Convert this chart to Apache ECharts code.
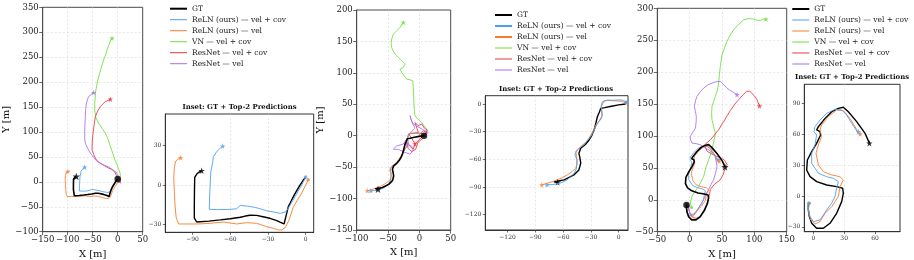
<!DOCTYPE html>
<html><head><meta charset="utf-8">
<script src="https://cdn.jsdelivr.net/npm/echarts@6/dist/echarts.min.js"></script>
<style>html,body{margin:0;padding:0;background:#fff}#c{width:914px;height:260px}</style>
</head><body><div id="c"></div>
<script>
// ---------- names / colours ----------
const seriesNames = ['GT', 'ReLN (ours) — vel + cov', 'ReLN (ours) — vel', 'VN — vel + cov', 'ResNet — vel + cov', 'ResNet — vel'];
const seriesColors = ['#000000', '#4f9ff0', '#f97c2e', '#6edd3c', '#e8333e', '#a66df5'];
const insetTitle = 'Inset: GT + Top-2 Predictions';

// ---------- scene 1 ----------
const s1_gt = [[0,5.8],[-1.9,3.8],[-4.5,0],[-7,-4],[-9.8,-8.8],[-12,-13],[-13.8,-16.4],[-15.5,-23],[-17.2,-29.5],[-20,-28.3],[-23,-27],[-28.4,-25.2],[-34,-24],[-39,-23],[-44.3,-22.9],[-48,-23.5],[-52,-24.4],[-60,-25.5],[-68,-26.4],[-77,-27.3],[-86.7,-28],[-88.6,-25],[-88.6,-15],[-88.5,-5],[-88.3,5.8],[-86.5,8.5],[-84.5,10],[-82.8,10.8]];
const s1_relnCov = [[0,6],[-2,2],[-5,-3],[-8,-8],[-11,-13],[-13.5,-17],[-15.6,-20.2],[-20,-21.5],[-25,-20.5],[-31,-19.5],[-36,-18],[-40,-17],[-46,-16],[-52,-15.4],[-55,-18],[-62,-18.5],[-70,-18.6],[-76.7,-18.4],[-76.5,-10],[-76,0],[-75.5,10],[-74,17],[-73.5,21.4],[-71,25],[-68,28],[-66,29.5]];
const s1_relnVel = [[2,4],[0,0],[-3,-6],[-7,-12],[-10,-17],[-13,-26],[-16,-32],[-19,-34],[-21.8,-34],[-25,-33],[-31,-31.5],[-39,-29],[-47,-28.5],[-55,-29.5],[-65,-28],[-76,-29],[-86,-29.5],[-92,-29.5],[-101,-29.5],[-103,-25],[-104,-15],[-104.5,-5],[-105,5],[-104.5,13],[-103.5,18],[-101,20],[-99.5,20.7]];
const s1_vn = [[2,4],[5,10],[5,17],[2,25],[-1,34],[-6,45],[-10,58],[-14.7,71],[-19,85],[-24.7,97.6],[-31,107],[-38,117.6],[-43,127],[-44.7,134],[-46,146],[-46,157.8],[-45,168],[-44.7,177.8],[-42,193],[-38,211],[-33,228],[-28,244.7],[-24,255],[-21.3,264.7],[-17,276],[-14,284],[-11.3,288]];
const s1_resCov = [[3,5],[6,0],[4,-4],[1,-2],[0,5],[-2,12],[-6,20],[-12,25],[-18,27.4],[-26,32],[-34.7,37.4],[-41,42],[-44.7,47.5],[-48,55],[-51.3,64],[-51,80],[-49.3,97.6],[-47,115],[-44.7,131],[-40,142],[-34.7,151],[-29,157],[-24.7,161],[-19,163],[-14.7,165.8]];
const s1_resVel = [[4,6],[8,3],[6,-3],[2,0],[2,8],[0,15],[-4,20],[-8,24],[-17,29],[-28,34],[-35,37],[-41.3,40.8],[-47,48],[-54.7,57.5],[-60,67],[-64.7,77.5],[-66,87],[-66,97.6],[-65.5,115],[-64.7,131],[-64,145],[-62.7,157.8],[-60,166],[-58,171],[-53,175],[-48,179]];

// ---------- scene 2 ----------
const s2_gt = [[7.4,0],[0,-1],[-8,-2.5],[-15,-4],[-19.3,-4.7],[-21,-9],[-23,-13.7],[-24.5,-20],[-26.5,-28],[-29,-34],[-32,-39],[-36,-44],[-41,-48],[-43,-53.4],[-42,-58],[-41,-64],[-42,-68],[-43,-71.5],[-48.4,-77],[-54,-80],[-59,-82.3],[-65,-83.5],[-70,-84.5],[-66,-85]];
const s2_relnCov = [[8,2],[5,4],[0,4.5],[-6,4],[-12,4.3],[-17.5,2.5],[-19,-2],[-18.5,-8],[-17.5,-12],[-19,-16],[-22,-20],[-24.7,-24.5],[-27,-30],[-30,-35],[-34,-40],[-37.5,-44],[-41,-47],[-44.7,-50],[-47.3,-55],[-45,-60.6],[-45.5,-66],[-45.5,-69.7],[-48,-75],[-52,-79],[-55.6,-82.3],[-61,-85],[-66.5,-86.6],[-72,-87.5],[-77.5,-87.7]];
const s2_relnVel = [[8,1],[3,3],[-5,3.5],[-12,3.8],[-15.6,3.6],[-17.5,0],[-19,-4],[-18,-8],[-17.5,-10],[-18.5,-13.7],[-21,-18],[-24.7,-22.7],[-28,-30],[-32,-37],[-36,-42],[-41,-46],[-44,-49],[-46.5,-51.6],[-45.5,-57],[-44.7,-64],[-45.5,-67],[-46.5,-69.7],[-50,-73],[-55.6,-77],[-61,-80],[-66.5,-82.3],[-72,-84.5],[-77.5,-86],[-83,-87.7]];
const s2_vn = [[8,0],[12,6],[11.6,10.6],[8,15],[3.7,21.2],[-2,26],[-7,31.8],[-8,40],[-8.6,50.3],[-9,63],[-9.7,76.8],[-10.7,87.4],[-15,89],[-20.3,90],[-24,95],[-28.2,100.7],[-30.9,106],[-25.6,108.6],[-22.9,113.9],[-25,117],[-30,121],[-36.2,127.2],[-41,133],[-44.2,140.4],[-45,147],[-44.2,153.7],[-41.5,161.6],[-36.2,166.9],[-30.9,172.2],[-25.6,180.2]];
const s2_resCov = [[8,0],[12.8,9],[8,12],[3.7,18.6],[-2,16],[-7,21],[-4,12],[-1.7,5.3],[-8,4],[-17.6,2.7],[-12,-4],[-7,-13.3],[-9.6,-21.3],[-14,-18],[-20,-10.6],[-18,-20],[-13,-25],[-6,-22],[-2,-10],[5,-5],[0,2],[6,8],[12,5],[4,-2],[-7,-13]];
const s2_resVel = [[8,0],[14.3,5.3],[5,10],[-9.6,18.6],[-13,25],[-14.9,31.9],[-12,22],[-7,12],[-14,5],[-20,-5.3],[-25.6,-13.3],[-36,-16],[-41.5,-21.3],[-33,-22],[-22.9,-26.6],[-15,-29.3],[-9.6,-24],[-12,-17],[-20,-13]];

// ---------- scene 3 ----------
const s3_gt = [[-4.9,-8],[-4.9,-13],[-3.9,-20],[-1.6,-26.6],[3.2,-31.5],[9.7,-31.5],[16.2,-26.6],[22.7,-16.9],[27.6,-5.5],[29.2,2.6],[28.6,7.5],[22.7,9.1],[13,10.7],[3.3,14],[-3.2,18.8],[-6.5,25.3],[-5.8,35],[-1.6,43.2],[3.2,51.3],[7.1,59.4],[6.5,62.7],[3.2,64.3],[4.9,67.5],[11.4,75.6],[17.9,82.1],[24.4,85.4],[29.2,86.4],[34.1,82.1],[42.2,72.4],[50.4,61],[54.6,51.3]];
const s3_relnCov = [[-4.2,-7.1],[-4.9,-13.6],[-3.2,-20.1],[0,-25],[6.5,-23.4],[13,-13.6],[17.9,-7.1],[21.1,-0.6],[22.7,7.5],[24.4,14],[19.5,17.2],[13,18.8],[4.9,22.1],[-1.6,31.8],[-1.6,41.6],[1.6,49.7],[3.2,59.4],[0.6,62.7],[1.6,67.5],[6.5,74],[13,80.5],[21.1,84.4],[27.6,83.8],[32.5,78.9],[37.3,70.8],[42.2,63.6],[43.8,62.7]];
const s3_relnVel = [[-4.2,-7.1],[-4.9,-15.5],[-2.6,-23.5],[1.6,-27.3],[6.5,-25],[11.4,-16.9],[17.9,-10.4],[24.4,-0.6],[26,9.1],[29.2,15.6],[25.9,18.8],[17.9,20.5],[9.7,23.7],[4.9,30.2],[2.6,41.6],[4.9,49.7],[8.1,57.8],[6.5,64.3],[8.1,69.2],[14.6,77.3],[22.7,83.8],[29.2,83.1],[35.7,75.6],[40.6,67.5],[43.8,61.7],[45.5,60.4]];
const s3_vn = [[3,-12],[1,-5],[3.6,5.2],[8,13],[13.9,20.9],[18,29],[21.6,36.6],[25,50],[29.4,62.7],[32,70],[34.5,78.3],[37,90],[39.7,104.4],[37,115],[34.5,125.3],[34,135],[34.5,146.2],[37,154],[39.7,161.9],[43,172],[44.8,182.8],[46,196],[47.4,208.9],[50,227.2],[54,238],[57.7,248],[62,257],[68,266.3],[75,274],[83.5,282],[92,284],[99,283],[105,281],[109.3,281],[113,283],[118,283]];
const s3_resCov = [[-3,-10],[0,-20],[5,-28],[10,-29],[16,-27],[22,-17],[27,-5],[30,5],[32,16],[38,24],[47,31],[52,40],[55,50],[58,55],[54,62],[48,66],[42,68],[34,72],[27,76],[23,86],[32,94],[38,101],[45,110],[49,117],[53,123],[58,132],[63,140],[70,150],[76,157],[82,164],[88,170],[93,170],[96,168],[100,163],[104,157],[108,147]];
const s3_resVel = [[-2,-10],[1,-23.5],[6,-22],[11.3,-18.3],[16,-9],[21.6,0],[25,8],[29.4,15.7],[33,24],[37,31.3],[40,42],[42.3,52.2],[41,60],[39.7,68],[35,74],[29.4,78.3],[23,82],[16.5,86.2],[10,88],[3.6,88.8],[1,95],[1,99.2],[5,106],[9,112.3],[10,122],[10.3,130.5],[9,138],[7.2,146.2],[9,155],[11.3,161.9],[16,169],[21.6,175],[28,180],[34.5,182.8],[41,185],[47.4,185.4],[53,180],[57.7,175],[62,172],[65.5,169.7],[70,167],[73.2,164.5]];

// ---------- axis ranges / ticks ----------
const main1X = [-150, 50], main1Y = [-100, 350];
const main2X = [-100, 50], main2Y = [-150, 200];
const main3X = [-50, 150], main3Y = [-50, 300];
const inset1XRange = [-111.7, 6.4], inset1YRange = [-35.8, 53.8];
const inset2XRange = [-144, 10], inset2YRange = [-136.7, 9];
const inset3XRange = [-8.8, 84.4], inset3YRange = [-34.8, 108.8];
const inset1XTicks = [-90, -60, -30, 0], inset1YTicks = [-30, 0, 30];
const inset2XTicks = [-120, -90, -60, -30, 0], inset2YTicks = [-120, -90, -60, -30, 0];
const inset3XTicks = [0, 30, 60], inset3YTicks = [-30, 0, 30, 60, 90];

// ---------- build ----------
const F = 'DejaVu Serif';
const STAR = 'path://M0,-10L2.35,-3.24L9.51,-3.09L3.8,1.24L5.88,8.09L0,4L-5.88,8.09L-3.8,1.24L-9.51,-3.09L-2.35,-3.24Z';
const fmt = v => (v < 0 ? '\u2212' : '') + Math.abs(Math.round(v * 100) / 100);

const grids = [
  {left: 42.7, top: 7.3, width: 100, height: 224.4, borderColor: '#4a4a4a'},
  {left: 165.3, top: 114, width: 148.4, height: 118.3, borderColor: '#333'},
  {left: 356.7, top: 10, width: 94, height: 220, borderColor: '#4a4a4a'},
  {left: 485.3, top: 95.7, width: 142.7, height: 134.3, borderColor: '#333'},
  {left: 657.3, top: 8.3, width: 129.4, height: 223.4, borderColor: '#4a4a4a'},
  {left: 804.3, top: 84.3, width: 95.7, height: 147.4, borderColor: '#333'}
].map(g => Object.assign({show: true, borderWidth: 1, backgroundColor: 'transparent', containLabel: false, outerBoundsMode: 'none'}, g));

const splitLine = {show: true, showMinLine: false, showMaxLine: false, lineStyle: {color: '#d9d9d9', width: 0.6, type: [2, 2]}};
function mainAxis(gi, range, name, gap) {
  return {
    type: 'value', gridIndex: gi, min: range[0], max: range[1], interval: 50,
    name: name, nameLocation: 'middle', nameGap: gap,
    nameTextStyle: {fontFamily: F, fontSize: 10, color: '#111'},
    axisLine: {show: true, onZero: false, lineStyle: {color: '#4a4a4a', width: 1}},
    axisTick: {show: true, length: 3.5, lineStyle: {color: '#444', width: 0.8}},
    axisLabel: {fontFamily: F, fontSize: 8.5, color: '#222', margin: 4, formatter: fmt},
    splitLine: splitLine
  };
}
function insetAxis(gi, range, ticks, split) {
  return {
    type: 'value', gridIndex: gi, min: range[0], max: range[1], splitNumber: split,
    axisLine: {show: true, onZero: false, lineStyle: {color: '#333', width: 1}},
    axisTick: {show: true, length: 2.5, customValues: ticks, lineStyle: {color: '#333', width: 0.7}},
    axisLabel: {show: false},
    splitLine: splitLine
  };
}

const xAxis = [
  mainAxis(0, main1X, 'X [m]', 12.5),
  insetAxis(1, inset1XRange, inset1XTicks, 4),
  mainAxis(2, main2X, 'X [m]', 12.5),
  insetAxis(3, inset2XRange, inset2XTicks, 5),
  mainAxis(4, main3X, 'X [m]', 11.5),
  insetAxis(5, inset3XRange, inset3XTicks, 3)
];
const yAxis = [
  mainAxis(0, main1Y, 'Y [m]', 25.5),
  insetAxis(1, inset1YRange, inset1YTicks, 3),
  mainAxis(2, main2Y, 'Y [m]', 29),
  insetAxis(3, inset2YRange, inset2YTicks, 5),
  mainAxis(4, main3Y, '', 25),
  insetAxis(5, inset3YRange, inset3YTicks, 5)
];

const series = [];
function traj(gi, idx, data, width, z, startSize, endSize, startZ) {
  const name = seriesNames[idx], color = seriesColors[idx];
  series.push({
    type: 'line', name: name, xAxisIndex: gi, yAxisIndex: gi, data: data,
    showSymbol: false, symbol: 'none', smooth: false, silent: true, z: z,
    lineStyle: {color: color, width: width}, itemStyle: {color: color}
  });
  const pts = [];
  if (startSize) pts.push({value: data[0], symbol: 'circle', symbolSize: startSize});
  if (endSize) pts.push({value: data[data.length - 1], symbol: STAR, symbolSize: endSize});
  series.push({
    type: 'scatter', name: name, xAxisIndex: gi, yAxisIndex: gi, data: pts,
    silent: true, z: startZ || (z + 1), itemStyle: {color: color}
  });
}
const scenes = [
  [s1_gt, s1_relnCov, s1_relnVel, s1_vn, s1_resCov, s1_resVel],
  [s2_gt, s2_relnCov, s2_relnVel, s2_vn, s2_resCov, s2_resVel],
  [s3_gt, s3_relnCov, s3_relnVel, s3_vn, s3_resCov, s3_resVel]
];
scenes.forEach((sc, p) => {
  const gm = 2 * p, gin = 2 * p + 1;
  [3, 4, 5, 1, 2].forEach(k => traj(gm, k, sc[k], 0.85, 3, 3, 5.5));
  traj(gm, 0, sc[0], 1.6, 6, 6.5, 7.5, 8);
  traj(gin, 0, sc[0], 1.4, 3, 0, 6.5);
  traj(gin, 2, sc[2], 0.9, 4, 3.5, 5.5);
  traj(gin, 1, sc[1], 0.9, 5, 3.5, 5.5);
});

function legendData(thick) {
  return seriesNames.map((n, i) => ({
    name: n,
    icon: (i === 0 || (thick && i < 3)) ? 'path://M0,0H17V2H0Z' : 'path://M0,0H17V1H0Z'
  }));
}
function legend(left, top, thick) {
  return {
    orient: 'vertical', left: left, top: top, itemWidth: 17, itemHeight: 3, itemGap: 0,
    symbolKeepAspect: true, selectedMode: false, padding: 0,
    textStyle: {fontFamily: F, fontSize: 7.5, color: '#222', lineHeight: 11},
    data: legendData(thick)
  };
}

const titleFont = 'bold 6.9px "DejaVu Serif"';
const graphic = [
  {type: 'text', x: 239.5, y: 107.7, silent: true, style: {text: insetTitle, align: 'center', verticalAlign: 'middle', font: titleFont, fill: '#111'}},
  {type: 'text', x: 556, y: 89.3, silent: true, style: {text: insetTitle, align: 'center', verticalAlign: 'middle', font: titleFont, fill: '#111'}},
  {type: 'text', x: 852, y: 77.5, silent: true, style: {text: insetTitle, align: 'center', verticalAlign: 'middle', font: titleFont, fill: '#111'}}
];

const chart = echarts.init(document.getElementById('c'), null, {renderer: 'canvas'});
chart.setOption({
  animation: false,
  backgroundColor: '#ffffff',
  grid: grids, xAxis: xAxis, yAxis: yAxis, series: series,
  legend: [legend(170, 3.2, false), legend(495, 9.5, true), legend(792.3, 3.5, false)],
  graphic: graphic,
  tooltip: {show: false}
});

// inset tick labels, positioned through the insets' own axes, on a top layer
const tickFont = '6px "DejaVu Serif"';
const insets = [
  {ai: 1, xr: inset1XRange, yr: inset1YRange, xt: inset1XTicks, yt: inset1YTicks},
  {ai: 3, xr: inset2XRange, yr: inset2YRange, xt: inset2XTicks, yt: inset2YTicks},
  {ai: 5, xr: inset3XRange, yr: inset3YRange, xt: inset3XTicks, yt: inset3YTicks}
];
insets.forEach(s => {
  const bottom = chart.convertToPixel({yAxisIndex: s.ai}, s.yr[0]);
  const left = chart.convertToPixel({xAxisIndex: s.ai}, s.xr[0]);
  s.xt.forEach(v => graphic.push({type: 'text', silent: true, z: 100, zlevel: 1,
    x: chart.convertToPixel({xAxisIndex: s.ai}, v), y: bottom + 4,
    style: {text: fmt(v), align: 'center', verticalAlign: 'top', font: tickFont, fill: '#333'}}));
  s.yt.forEach(v => graphic.push({type: 'text', silent: true, z: 100, zlevel: 1,
    x: left - 4, y: chart.convertToPixel({yAxisIndex: s.ai}, v),
    style: {text: fmt(v), align: 'right', verticalAlign: 'middle', font: tickFont, fill: '#333'}}));
});
chart.setOption({graphic: graphic});
</script></body></html>
